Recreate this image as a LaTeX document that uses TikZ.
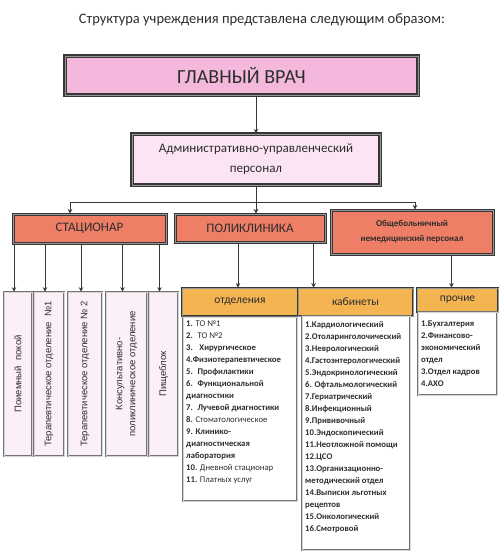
\documentclass[tikz,border=0pt]{standalone}
\usepackage{fontspec}
\setmainfont{Carlito}
\newfontfamily\arialfont{Liberation Sans}
\usetikzlibrary{arrows.meta,positioning,calc}
\definecolor{RamkaTemn}{RGB}{55,55,55}
\definecolor{RamkaSvet}{RGB}{150,150,150}
\definecolor{RamkaSer}{RGB}{115,115,115}
\definecolor{GlavRoz}{RGB}{243,184,220}
\definecolor{AdmRoz}{RGB}{251,228,244}
\definecolor{Losos}{RGB}{238,126,102}
\definecolor{Zoloto}{RGB}{244,180,82}
\definecolor{OtdRoz}{RGB}{252,240,248}
\definecolor{Tekst}{RGB}{45,45,45}
\tikzset{
  nadpis/.style={font=\fontsize{14.5}{16}\selectfont, text=Tekst, inner sep=0pt},
  rukovod/.style={draw=RamkaTemn, double=RamkaSvet, double distance=1pt, line width=1.1pt,
                fill=GlavRoz, text=Tekst, font=\fontsize{20}{22}\selectfont, inner sep=0pt},
  upravl/.style={draw=RamkaTemn, double=RamkaSvet, double distance=1pt, line width=1.1pt,
                fill=AdmRoz, text=Tekst, align=center, font=\fontsize{13}{20}\selectfont, inner sep=0pt},
  podrazd/.style={draw=RamkaTemn, double=RamkaSvet, double distance=1pt, line width=1pt,
                fill=Losos, text=Tekst, align=center, font=\fontsize{13}{15}\selectfont, inner sep=0pt},
  % vertical boxes of the hospital: rotated, so .east is the top side
  sluzhba/.style={draw=RamkaSer, double=RamkaSvet!40, double distance=0.9pt, line width=0.7pt,
                fill=OtdRoz, text=Tekst, rotate=90, align=center, inner sep=0pt,
                minimum width=164pt, font=\arialfont\fontsize{9.5}{12}\selectfont},
  zagolovok/.style={draw=RamkaTemn, double=RamkaSvet, double distance=1pt, line width=0.9pt,
                fill=Zoloto, text=Tekst, font=\fontsize{11.5}{13}\selectfont, inner sep=0pt},
  spisok/.style={draw=RamkaSer, double=RamkaSvet!40, double distance=0.9pt, line width=0.7pt,
                fill=white, inner sep=0pt},
  perechen/.style={align=left, anchor=north west, inner sep=0pt, text=Tekst,
                font=\fontsize{8.7}{12}\selectfont},
  svyaz/.style={-{Stealth[length=4.5pt,width=4.5pt]}, line width=1pt, RamkaTemn},
  liniya/.style={line width=1pt, RamkaTemn},
}

\begin{document}
\begin{tikzpicture}[x=1pt,y=-1pt]
  \useasboundingbox (0,0) rectangle (500,552);

  \node[nadpis] (nazv) at (262,20) {Структура учреждения представлена следующим образом:};

  \node[rukovod,minimum width=353pt,minimum height=39pt] (glav)  at (241.5,75.5) {ГЛАВНЫЙ ВРАЧ};
  \node[upravl,minimum width=248pt,minimum height=51pt]  (admin) at (256,159.5)  {Административно-управленческий\\персонал};

  \node[podrazd,minimum width=153pt,minimum height=29pt] (stac) at (89.5,228.5) {СТАЦИОНАР};
  \node[podrazd,minimum width=150pt,minimum height=28pt] (poli) at (250,228)    {ПОЛИКЛИНИКА};
  \node[podrazd,minimum width=162pt,minimum height=44pt,font=\bfseries\fontsize{9}{15}\selectfont]
       (obsh) at (412,232) {Общебольничный\\немедицинский персонал};

  % stationary departments
  \node[sluzhba,minimum height=28pt] (priem) at (18,374)    {Поиемный\ \ покой};
  \node[sluzhba,minimum height=30pt] (ter1)  at (49,374)    {Терапевтическое отделение \ №1};
  \node[sluzhba,minimum height=34pt] (ter2)  at (85,374)    {Терапевтическое отделение № 2};
  \node[sluzhba,minimum height=41pt,font=\arialfont\fontsize{9.5}{13}\selectfont]
       (konsul) at (126.5,374) {Консультативно-\\поликлиническое отделение};
  \node[sluzhba,minimum height=29pt] (pishe) at (163.5,374) {Пищеблок};

  % polyclinic and general staff
  \node[zagolovok,minimum width=116pt,minimum height=28pt] (otdh) at (240,302)   {отделения};
  \node[zagolovok,minimum width=115pt,minimum height=28pt] (kabh) at (355.5,302) {кабинеты};
  \node[zagolovok,minimum width=81pt,minimum height=24pt]  (prh)  at (457.5,300) {прочие};

  \node[spisok,minimum width=114pt,minimum height=184pt] (otdb) at (240,409)   {};
  \node[spisok,minimum width=108pt,minimum height=234pt] (kabb) at (356,433)   {};
  \node[spisok,minimum width=79pt,minimum height=83pt]   (prb)  at (457.5,353.5) {};

  \node[perechen] (otdl) at (186,321) {%
    \textbf{1.} ТО №1\\
    \textbf{2.} \ ТО №2\\
    \textbf{3.} \ \ \textbf{Хирургическое}\\
    \textbf{4.Физиотерапевтическое}\\
    \textbf{5.} \ \textbf{Профилактики}\\
    \textbf{6.} \ \textbf{Функциональной}\\
    \textbf{диагностики}\\
    \textbf{7.} \ \textbf{Лучевой диагностики}\\
    \textbf{8.} Стоматологическое\\
    \textbf{9.} \textbf{Клинико-}\\
    \textbf{диагностическая}\\
    \textbf{лаборатория}\\
    \textbf{10.} Дневной стационар\\
    \textbf{11.} Платных услуг};

  \node[perechen,font=\bfseries\fontsize{8.7}{12}\selectfont] (kabl) at (305,321) {%
    1.Кардиологический\\
    2.Отоларинголочический\\
    3.Неврологический\\
    4.Гастоэнтерологический\\
    5.Эндокринологический\\
    6. Офтальмологический\\
    7.Гериатрический\\
    8.Инфекционный\\
    9.Прививочный\\
    10.Эндоскопический\\
    11.Неотложной помощи\\
    12.ЦСО\\
    13.Организационно-\\
    методический отдел\\
    14.Выписки льготных\\
    рецептов\\
    15.Онкологический\\
    16.Смотровой};

  \node[perechen,font=\bfseries\fontsize{8.7}{12}\selectfont] (prl) at (421,321) {%
    1.Бухгалтерия\\
    2.Финансово-\\
    экономический\\
    отдел\\
    3.Отдел кадров\\
    4.АХО};

  % connections
  \coordinate (razv) at (256,202);
  \coordinate (razvL) at (70,202);
  \coordinate (razvR) at (415,202);

  \draw[svyaz] (glav.south -| admin.north) -- (admin.north);
  \draw[liniya] (admin.south) -- (razv);
  \draw[svyaz] (razv) -- (razv |- poli.north);
  \draw[liniya] (razvL) -- (razvR);
  \draw[svyaz] (razvL) -- (razvL |- stac.north);
  \draw[svyaz] (razvR) -- (razvR |- obsh.north);

  \foreach \otd in {priem,ter1,ter2,konsul,pishe}
    \draw[svyaz] ([xshift=-4pt]\otd.east |- stac.south) -- ([xshift=-4pt]\otd.east);

  \draw[svyaz] ([xshift=-2pt]otdh.north |- poli.south) -- ([xshift=-2pt]otdh.north);
  \draw[svyaz] ([xshift=-12pt]poli.south east) -- ([xshift=-12pt]poli.south east |- kabh.north);
  \draw[svyaz] ([xshift=-6pt]prh.north |- obsh.south) -- ([xshift=-6pt]prh.north);

\end{tikzpicture}
\end{document}
